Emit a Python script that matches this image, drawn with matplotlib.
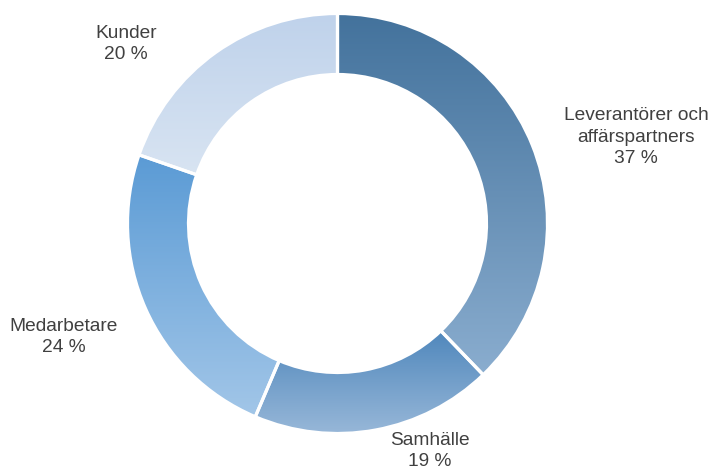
import matplotlib
matplotlib.use("Agg")
import matplotlib.pyplot as plt
import numpy as np
from matplotlib.colors import to_rgb
from matplotlib.patches import Wedge

plt.rcParams["font.family"] = ["Liberation Sans", "DejaVu Sans"]

# clockwise from 12 o'clock
labels = ["Leverantörer och\naffärspartners", "Samhälle", "Medarbetare", "Kunder"]
shares = [37.8, 18.6, 23.9, 19.7]          # measured from arc angles
pct_printed = [37, 19, 24, 20]
top_colors = ["#43729c", "#4f87bc", "#5b9bd5", "#bfd2eb"]
bottom_colors = ["#8aadcf", "#97b7d8", "#a2c6e8", "#d8e4f2"]
label_pos = [(636, 137), (430, 451), (64, 337), (126, 44)]   # pixel coords, y down

W, H = 711, 473
fig = plt.figure(figsize=(W / 100, H / 100), dpi=100)
ax = fig.add_axes([0, 0, 1, 1])

cx, cy = 337.5, H - 223.5
wedges, _ = ax.pie(shares, startangle=90, counterclock=False, radius=210,
                   center=(cx, cy), frame=True,
                   wedgeprops=dict(width=61, linewidth=0))

# vertical gradient in every segment
for w, c_top, c_bot in zip(wedges, top_colors, bottom_colors):
    ext = w.get_path().get_extents()
    t = np.linspace(0, 1, 256)[:, None]
    grad = (1 - t) * np.array(to_rgb(c_bot)) + t * np.array(to_rgb(c_top))
    im = ax.imshow(grad[:, None, :], extent=[ext.x0, ext.x1, ext.y0, ext.y1],
                   origin="lower", aspect="auto", interpolation="bilinear",
                   zorder=2)
    im.set_clip_path(w)
    ax.add_patch(Wedge(w.center, w.r, w.theta1, w.theta2, width=w.width,
                       fc="none", ec="white", lw=2.3, zorder=3))

for lab, p, (x, y) in zip(labels, pct_printed, label_pos):
    ax.text(x, H - y, f"{lab}\n{p} %", ha="center", va="center",
            fontsize=13.8, color="#404040", linespacing=1.36)

ax.set_xlim(0, W)
ax.set_ylim(0, H)
ax.axis("off")
fig.savefig("out.png", dpi=100)
